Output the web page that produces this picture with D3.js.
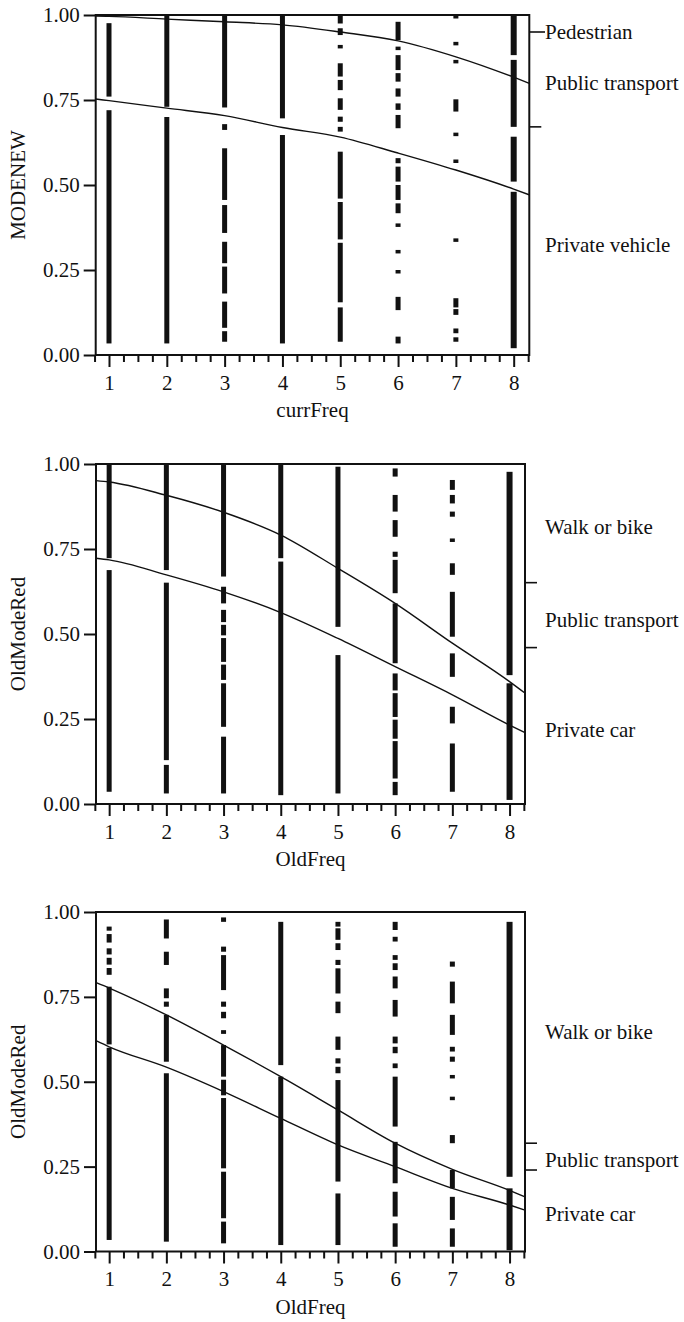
<!DOCTYPE html>
<html>
<head>
<meta charset="UTF-8">
<title>logistic fits</title>
<style>
  body, html { margin: 0; padding: 0; background: #fff; }
  svg { display: block; }
  text { font-family: "Liberation Serif", "Times New Roman", Times, serif; fill: #111; }
</style>
</head>
<body>
<script src="https://cdn.jsdelivr.net/npm/d3@7/dist/d3.min.js"></script>
<script>
// shared ticks
var xTicks = [1, 2, 3, 4, 5, 6, 7, 8];
var yTicks = [0, 0.25, 0.5, 0.75, 1];
var xDomain = [0.77, 8.27];

// panel 1: MODENEW vs currFreq
var p1Runs = [
  [[0.034, 0.72], [0.76, 0.976]],
  [[0.034, 0.70], [0.73, 1.0]],
  [[0.039, 0.07], [0.08, 0.157], [0.181, 0.26], [0.27, 0.333], [0.359, 0.441], [0.456, 0.608], [0.662, 0.679], [0.728, 1.0]],
  [[0.034, 0.647], [0.696, 1.0]],
  [[0.039, 0.14], [0.155, 0.33], [0.34, 0.45], [0.46, 0.598], [0.657, 0.671], [0.686, 0.701], [0.721, 0.755], [0.779, 0.809], [0.819, 0.858], [0.902, 0.912], [0.941, 0.961], [0.975, 1.0]],
  [[0.034, 0.054], [0.132, 0.171], [0.24, 0.25], [0.299, 0.309], [0.377, 0.387], [0.417, 0.446], [0.456, 0.5], [0.51, 0.554], [0.564, 0.579], [0.667, 0.706], [0.721, 0.74], [0.76, 0.784], [0.804, 0.829], [0.838, 0.882], [0.897, 0.907], [0.926, 0.98]],
  [[0.039, 0.052], [0.064, 0.078], [0.118, 0.135], [0.14, 0.167], [0.333, 0.343], [0.566, 0.575], [0.644, 0.654], [0.716, 0.752], [0.858, 0.868], [0.912, 0.921], [0.99, 1.0]],
  [[0.02, 0.48], [0.51, 0.642], [0.671, 0.868], [0.882, 1.0]]
];
var p1Upper = [[0.77, 0.997], [1, 0.996], [2, 0.988], [3, 0.98], [4, 0.971], [5, 0.95], [6, 0.924], [7, 0.877], [8, 0.817], [8.27, 0.799]];
var p1Lower = [[0.77, 0.753], [1, 0.748], [2, 0.726], [3, 0.704], [4, 0.669], [5, 0.641], [6, 0.594], [7, 0.544], [8, 0.488], [8.27, 0.471]];
var p1Cuts = [0.95, 0.671];
var p1Labels = ['Pedestrian', 'Public transport', 'Private vehicle'];
var p1LabelPos = [0.95, 0.80, 0.324];

// panel 2: OldModeRed vs OldFreq
var p2Runs = [
  [[0.036, 0.688], [0.723, 1.0]],
  [[0.031, 0.115], [0.129, 0.651], [0.688, 0.997]],
  [[0.031, 0.198], [0.227, 0.355], [0.365, 0.41], [0.418, 0.488], [0.496, 0.527], [0.535, 0.571], [0.59, 0.639], [0.669, 0.997]],
  [[0.026, 0.713], [0.723, 0.997]],
  [[0.031, 0.438], [0.521, 0.992]],
  [[0.026, 0.065], [0.075, 0.185], [0.192, 0.248], [0.256, 0.326], [0.334, 0.384], [0.414, 0.59], [0.62, 0.718], [0.727, 0.742], [0.786, 0.835], [0.86, 0.909], [0.963, 0.987]],
  [[0.036, 0.178], [0.237, 0.286], [0.374, 0.443], [0.492, 0.624], [0.674, 0.708], [0.771, 0.781], [0.845, 0.86], [0.884, 0.909], [0.924, 0.953]],
  [[0.012, 0.355], [0.379, 0.977]]
];
var p2Upper = [[0.77, 0.951], [1, 0.947], [2, 0.908], [3, 0.858], [4, 0.791], [5, 0.693], [6, 0.59], [7, 0.473], [8, 0.36], [8.27, 0.326]];
var p2Lower = [[0.77, 0.723], [1, 0.718], [2, 0.674], [3, 0.624], [4, 0.563], [5, 0.487], [6, 0.404], [7, 0.321], [8, 0.232], [8.27, 0.21]];
var p2Cuts = [0.651, 0.46];
var p2Labels = ['Walk or bike', 'Public transport', 'Private car'];
var p2LabelPos = [0.816, 0.541, 0.22];

// panel 3: OldModeRed vs OldFreq
var p3Runs = [
  [[0.034, 0.6], [0.61, 0.78], [0.815, 0.835], [0.845, 0.865], [0.875, 0.893], [0.91, 0.935], [0.945, 0.957]],
  [[0.029, 0.525], [0.559, 0.697], [0.721, 0.736], [0.746, 0.775], [0.844, 0.883], [0.922, 0.978]],
  [[0.024, 0.088], [0.098, 0.235], [0.245, 0.452], [0.46, 0.506], [0.515, 0.608], [0.641, 0.652], [0.687, 0.706], [0.721, 0.736], [0.77, 0.873], [0.883, 0.898], [0.971, 0.984]],
  [[0.019, 0.515], [0.549, 0.971]],
  [[0.019, 0.171], [0.206, 0.505], [0.525, 0.544], [0.554, 0.569], [0.594, 0.633], [0.702, 0.736], [0.76, 0.834], [0.844, 0.859], [0.888, 0.908], [0.918, 0.952], [0.957, 0.971]],
  [[0.014, 0.083], [0.103, 0.176], [0.201, 0.323], [0.368, 0.515], [0.54, 0.554], [0.584, 0.603], [0.613, 0.633], [0.692, 0.741], [0.775, 0.81], [0.829, 0.849], [0.859, 0.873], [0.913, 0.927], [0.947, 0.971]],
  [[0.014, 0.068], [0.093, 0.161], [0.186, 0.24], [0.319, 0.343], [0.446, 0.456], [0.51, 0.52], [0.559, 0.574], [0.589, 0.603], [0.638, 0.697], [0.731, 0.795], [0.839, 0.854]],
  [[0.004, 0.186], [0.22, 0.971]]
];
var p3Upper = [[0.77, 0.792], [1, 0.776], [2, 0.697], [3, 0.608], [4, 0.515], [5, 0.417], [6, 0.319], [7, 0.242], [8, 0.18], [8.27, 0.161]];
var p3Lower = [[0.77, 0.621], [1, 0.603], [2, 0.543], [3, 0.471], [4, 0.392], [5, 0.314], [6, 0.25], [7, 0.186], [8, 0.137], [8.27, 0.122]];
var p3Cuts = [0.319, 0.24];
var p3Labels = ['Walk or bike', 'Public transport', 'Private car'];
var p3LabelPos = [0.647, 0.27, 0.112];

var W = 684, H = 1322;
var labelX = 545;
var svg = d3.select('body').append('svg')
  .attr('width', W).attr('height', H);
svg.append('rect').attr('width', W).attr('height', H).attr('fill', '#fff');

var panels = [
  { left: 95.7, right: 529.3, top: 15, bottom: 355, yTitle: 'MODENEW', xTitle: 'currFreq',
    runs: p1Runs, upper: p1Upper, lower: p1Lower, cuts: p1Cuts, labels: p1Labels, labelPos: p1LabelPos },
  { left: 96, right: 525, top: 464, bottom: 804, yTitle: 'OldModeRed', xTitle: 'OldFreq',
    runs: p2Runs, upper: p2Upper, lower: p2Lower, cuts: p2Cuts, labels: p2Labels, labelPos: p2LabelPos },
  { left: 96, right: 525, top: 912, bottom: 1251.5, yTitle: 'OldModeRed', xTitle: 'OldFreq',
    runs: p3Runs, upper: p3Upper, lower: p3Lower, cuts: p3Cuts, labels: p3Labels, labelPos: p3LabelPos }
];

var fontSize = 21;
var ink = '#111';
var serif = '"Liberation Serif", "Times New Roman", Times, serif';

panels.forEach(drawPanel);

function drawPanel(p){
  var x = d3.scaleLinear().domain(xDomain).range([p.left, p.right]);
  var y = d3.scaleLinear().domain([0, 1]).range([p.bottom, p.top]);
  var g = svg.append('g');

  // points: runs of stacked square markers per column
  p.runs.forEach(function(col, i){
    var xv = xTicks[i];
    var w = i === 7 ? 6 : 5;
    g.append('g').selectAll('rect')
      .data(col)
      .enter()
      .append('rect')
      .attr('x', x(xv) - w / 2)
      .attr('y', function(d){ return y(d[1]); })
      .attr('width', w)
      .attr('height', function(d){ return Math.max(3.5, y(d[0]) - y(d[1])); })
      .attr('fill', ink);
  });

  // fitted curves
  var line = d3.line()
    .x(function(d){ return x(d[0]); })
    .y(function(d){ return y(d[1]); })
    .curve(d3.curveMonotoneX);
  [p.upper, p.lower].forEach(function(c){
    g.append('path')
      .attr('d', line(c))
      .attr('fill', 'none')
      .attr('stroke', ink)
      .attr('stroke-width', 1.4);
  });

  // y axis
  var ya = g.append('g')
    .attr('transform', 'translate(' + p.left + ',0)')
    .call(d3.axisLeft(y).tickValues(yTicks).tickFormat(d3.format('.2f'))
      .tickSize(12).tickSizeOuter(0).tickPadding(4));
  ya.select('.domain').remove();
  ya.selectAll('line').attr('stroke', ink).attr('stroke-width', 2);
  ya.selectAll('text').attr('font-size', fontSize).attr('fill', ink)
    .attr('font-family', serif);

  // x axis, major
  var xa = g.append('g')
    .attr('transform', 'translate(0,' + p.bottom + ')')
    .call(d3.axisBottom(x).tickValues(xTicks).tickFormat(d3.format('d'))
      .tickSize(12).tickSizeOuter(0).tickPadding(8));
  xa.select('.domain').remove();
  xa.selectAll('line').attr('stroke', ink).attr('stroke-width', 2);
  xa.selectAll('text').attr('font-size', fontSize).attr('fill', ink)
    .attr('font-family', serif);

  // x axis, minor
  var minor = d3.range(0.75, 8.26, 0.25).filter(function(v){ return v % 1 !== 0; });
  var xm = g.append('g')
    .attr('transform', 'translate(0,' + p.bottom + ')')
    .call(d3.axisBottom(x).tickValues(minor).tickFormat('').tickSize(7).tickSizeOuter(0));
  xm.select('.domain').remove();
  xm.selectAll('line').attr('stroke', ink).attr('stroke-width', 2);

  // frame
  g.append('rect')
    .attr('x', p.left).attr('y', p.top)
    .attr('width', p.right - p.left).attr('height', p.bottom - p.top)
    .attr('fill', 'none').attr('stroke', ink).attr('stroke-width', 2);

  // right side category cuts and labels
  g.append('g').selectAll('line')
    .data(p.cuts)
    .enter()
    .append('line')
    .attr('x1', p.right).attr('x2', function(d){
      return p.labelPos.indexOf(d) >= 0 ? labelX : p.right + 12;
    })
    .attr('y1', y).attr('y2', y)
    .attr('stroke', ink).attr('stroke-width', 1.6);

  g.append('g').selectAll('text')
    .data(p.labels)
    .enter()
    .append('text')
    .attr('x', labelX)
    .attr('y', function(d, i){ return y(p.labelPos[i]); })
    .attr('dy', '0.35em')
    .attr('font-size', fontSize)
    .attr('font-family', serif)
    .text(function(d){ return d; });

  // axis titles
  g.append('text')
    .attr('x', (p.left + p.right) / 2)
    .attr('y', p.bottom + 62)
    .attr('text-anchor', 'middle')
    .attr('font-size', fontSize)
    .attr('font-family', serif)
    .text(p.xTitle);

  g.append('text')
    .attr('transform', 'translate(25,' + ((p.top + p.bottom) / 2) + ') rotate(-90)')
    .attr('text-anchor', 'middle')
    .attr('font-size', fontSize)
    .attr('font-family', serif)
    .text(p.yTitle);
}
</script>
</body>
</html>
